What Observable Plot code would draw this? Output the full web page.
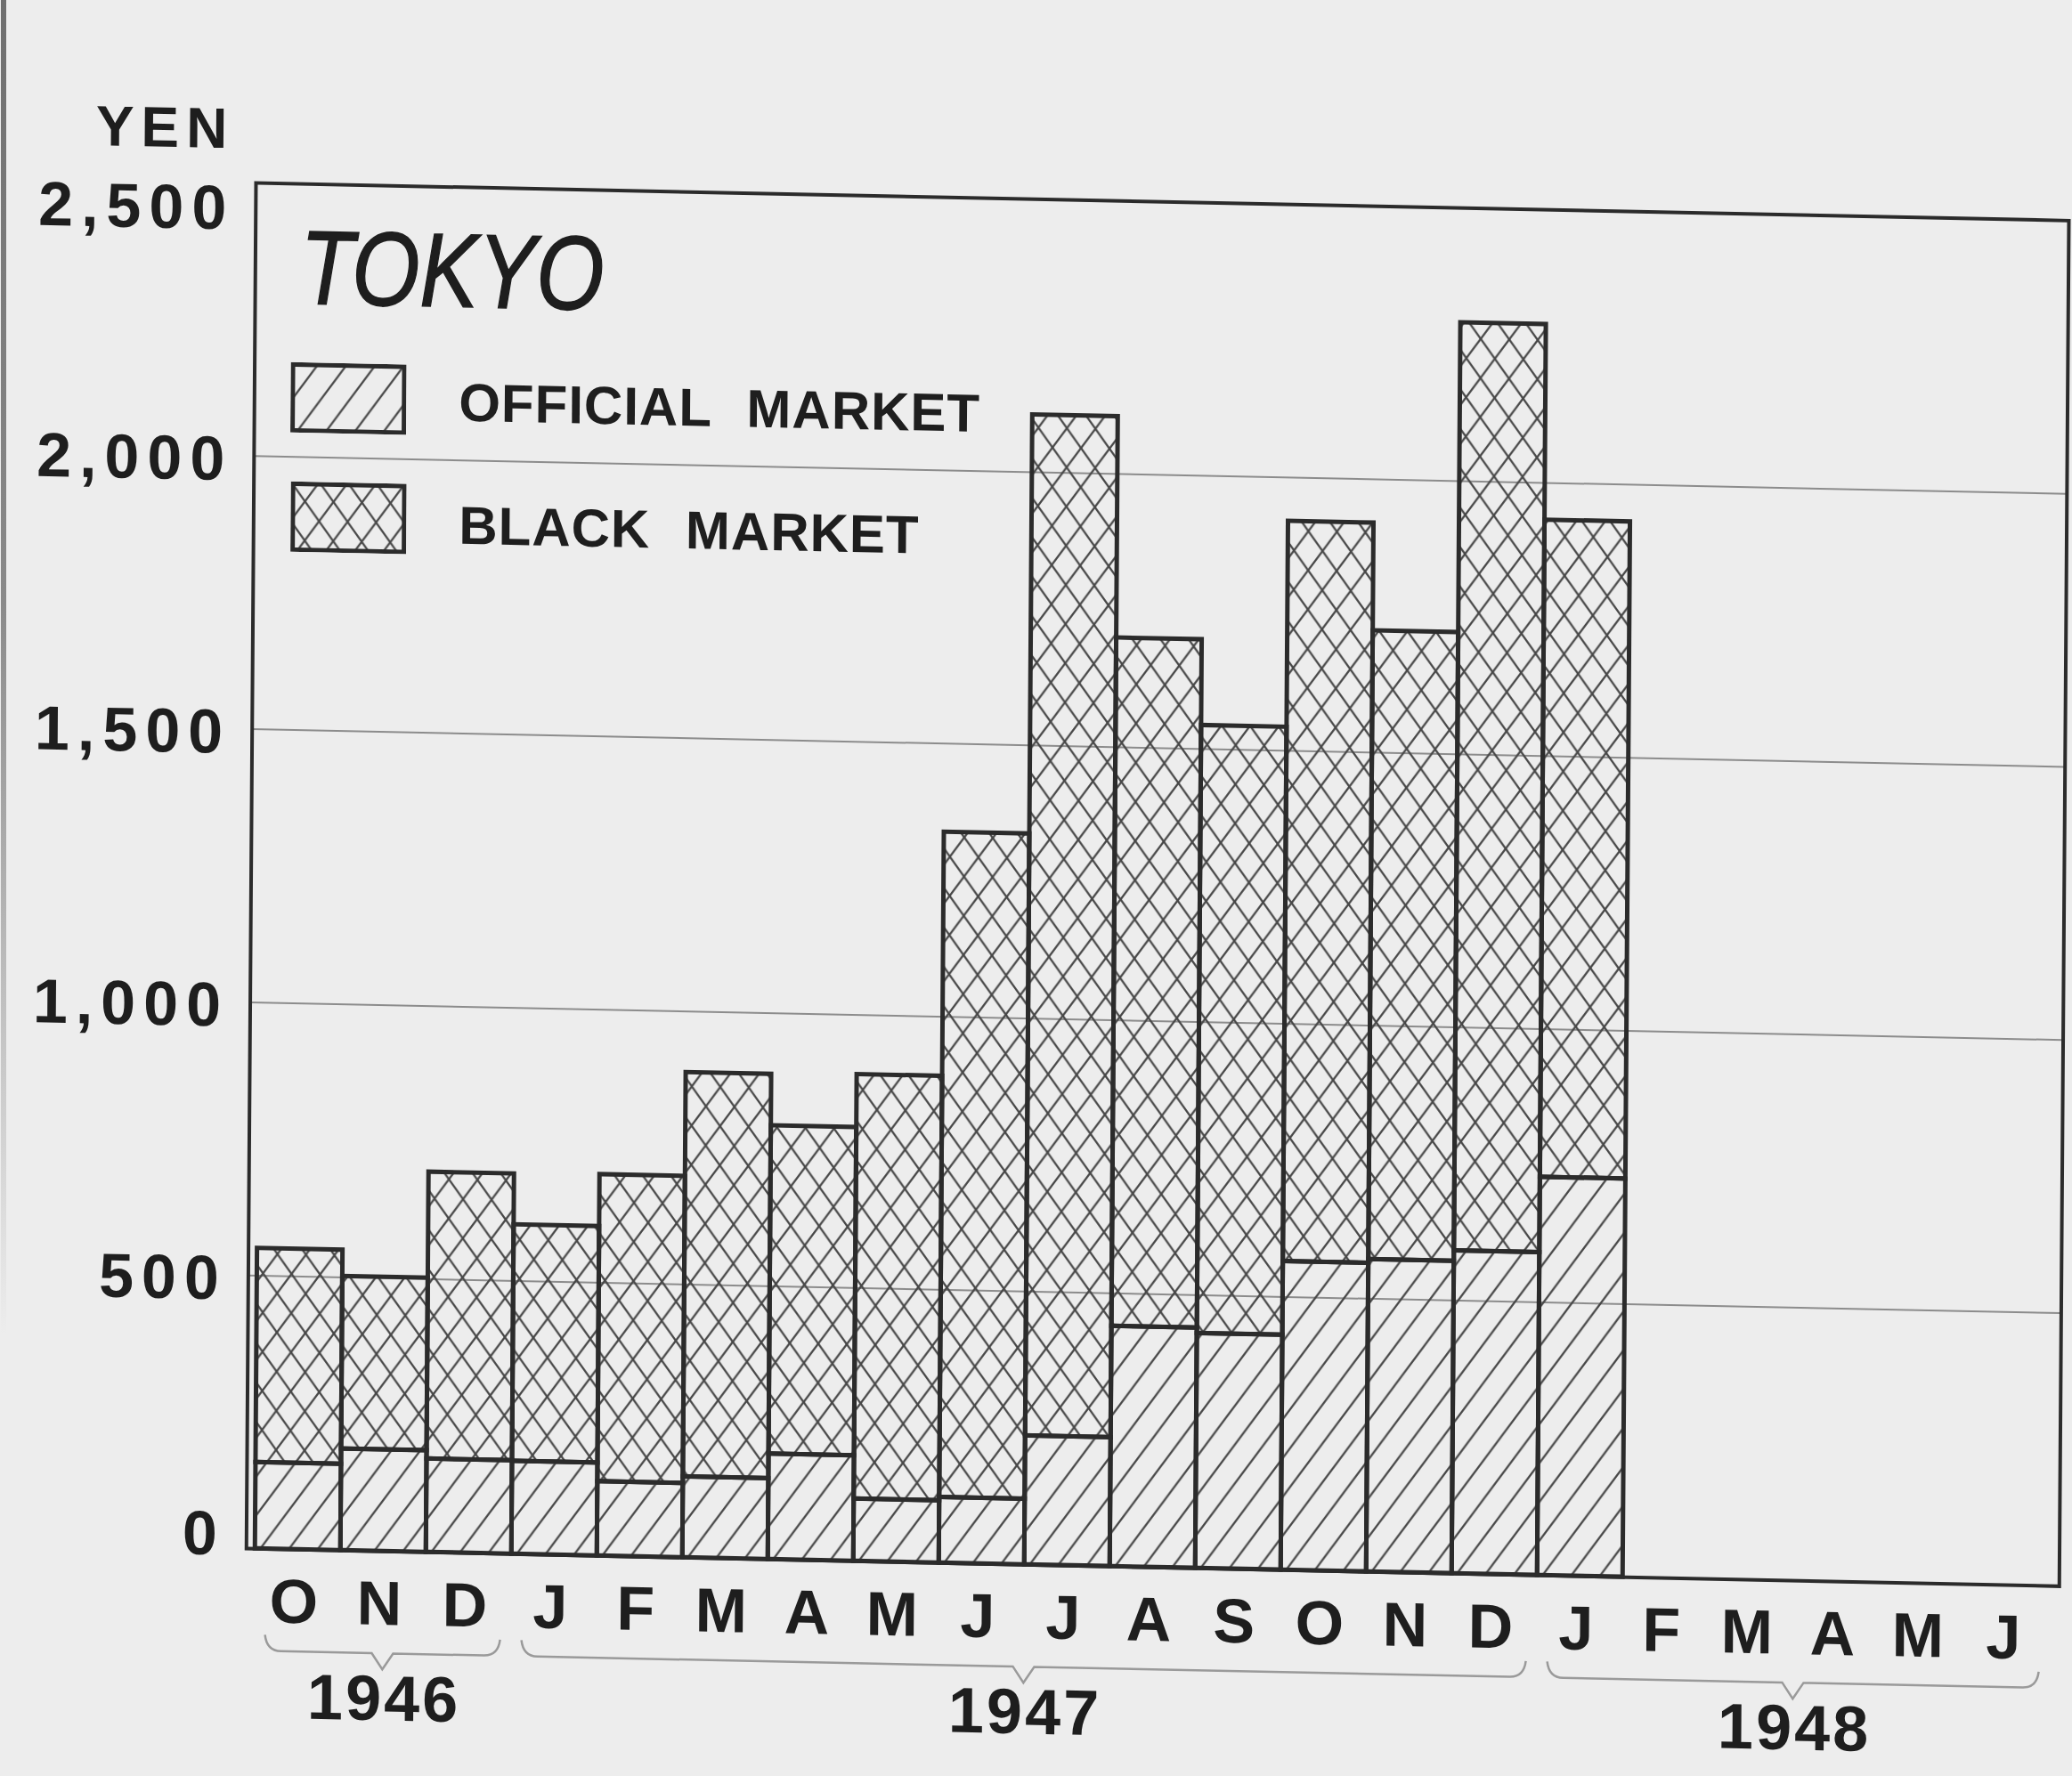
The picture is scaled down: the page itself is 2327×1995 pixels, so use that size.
<!DOCTYPE html>
<html>
<head>
<meta charset="utf-8">
<script src="https://cdn.jsdelivr.net/npm/d3@7"></script>
<script src="https://cdn.jsdelivr.net/npm/@observablehq/plot@0.6"></script>
<style>
  html, body { margin: 0; padding: 0; background: #ededed; overflow: hidden; }
  #scanedge { position: absolute; left: 1px; top: 0; width: 6px; height: 1500px;
    background: linear-gradient(to bottom, #6f6f6f 0%, #8a8a8a 45%, rgba(237,237,237,0) 100%); }
  #page { position: absolute; left: 0; top: 0; width: 2327px; height: 1995px;
    transform: matrix(1, 0.0208, -0.007, 1, 0, 0); transform-origin: 287px 205px;
    font-family: "Liberation Sans", Arial, sans-serif; color: #1e1e1e; }
  #chart { position: absolute; left: 0; top: 0; }
  .ov { position: absolute; white-space: nowrap; line-height: 1; }
  #yen { left: 263px; top: 145px; transform: translate(-100%, -50%); font-size: 64px; font-weight: bold; letter-spacing: 8px; }
  #title { left: 338px; top: 299px; transform-origin: left center; transform: translateY(-50%) scaleX(0.83);
    font-size: 118px; font-style: italic; font-weight: normal; -webkit-text-stroke: 1.5px #1e1e1e; }
  .swatch { position: absolute; }
  .legtext { font-size: 60px; font-weight: bold; letter-spacing: 1px; word-spacing: 22px; transform: translateY(-50%); }
</style>
</head>
<body>
<svg width="0" height="0" style="position:absolute">
  <defs>
    <pattern id="diagHatch" patternUnits="userSpaceOnUse" width="32" height="44">
      <path d="M-8,55 L40,-11 M-8,11 L8,-11 M24,55 L40,33" stroke="#474747" stroke-width="2.3" fill="none"/>
    </pattern>
    <pattern id="crossHatch" patternUnits="userSpaceOnUse" width="32" height="44">
      <path d="M-8,55 L40,-11 M-8,11 L8,-11 M24,55 L40,33 M-8,-11 L40,55 M-8,33 L8,55 M24,-11 L40,11" stroke="#474747" stroke-width="2.3" fill="none"/>
    </pattern>
  </defs>
</svg>
<div id="scanedge"></div>
<div id="page">
  <div id="chart"></div>
  <div class="ov" id="yen">YEN</div>
  <div class="ov" id="title">TOKYO</div>
  <svg class="swatch" style="left:328px;top:406px" width="130" height="79">
    <rect x="2.5" y="2.5" width="125" height="74" fill="url(#diagHatch)" stroke="#2b2b2b" stroke-width="5"/>
  </svg>
  <div class="ov legtext" style="left:517px;top:448px">OFFICIAL MARKET</div>
  <svg class="swatch" style="left:329px;top:540px" width="130" height="79">
    <rect x="2.5" y="2.5" width="125" height="74" fill="url(#crossHatch)" stroke="#2b2b2b" stroke-width="5"/>
  </svg>
  <div class="ov legtext" style="left:518px;top:586px">BLACK MARKET</div>
</div>
<script>
// ---- data (yen) ----
const months = ["1946-10","1946-11","1946-12",
  "1947-01","1947-02","1947-03","1947-04","1947-05","1947-06","1947-07","1947-08","1947-09","1947-10","1947-11","1947-12",
  "1948-01","1948-02","1948-03","1948-04","1948-05","1948-06"];
const monthLabels = ["O","N","D","J","F","M","A","M","J","J","A","S","O","N","D","J","F","M","A","M","J"];
const officialYen = [158, 186, 171, 170, 136, 148, 193, 114, 120, 236, 440, 430, 565, 572, 591, 729];
const blackMarketYen = [550, 502, 696, 603, 698, 888, 794, 891, 1338, 2105, 1700, 1543, 1920, 1723, 2290, 1932];
const yTicks = [0, 500, 1000, 1500, 2000, 2500];
const gridYen = [500, 1000, 1500, 2000];
const years = ["1946", "1947", "1948"];
const yearFirstMonth = ["1946-10", "1947-01", "1948-01"];
const yearLastMonth = ["1946-12", "1947-12", "1948-06"];

const rows = officialYen.map((v, i) => ({month: months[i], official: v, black: blackMarketYen[i]}));

const W = 2327, H = 1995, mL = 287, mR = 4, mT = 205, mB = 256;
const ink = "#2b2b2b";
const yfmt = d3.format(",");
const tickText = {frameAnchor: "left", textAnchor: "end", dx: -24, fontSize: 70, fontWeight: "bold", fill: "#1e1e1e"};

const chart = Plot.plot({
  width: W, height: H,
  marginLeft: mL, marginRight: mR, marginTop: mT, marginBottom: mB,
  style: {background: "transparent", fontFamily: "'Liberation Sans', Arial, sans-serif", letterSpacing: "9px", overflow: "visible", maxWidth: "none"},
  x: {domain: months, padding: 0, axis: null},
  y: {domain: [0, 2500], axis: null},
  marks: [
    Plot.ruleY(gridYen, {stroke: "#8c8c8c", strokeWidth: 2}),
    Plot.barY(rows, {x: "month", y1: "official", y2: "black", fill: "url(#crossHatch)", stroke: ink, strokeWidth: 5}),
    Plot.barY(rows, {x: "month", y1: 0, y2: "official", fill: "url(#diagHatch)", stroke: ink, strokeWidth: 5}),
    Plot.frame({stroke: ink, strokeWidth: 4}),
    Plot.text(months, {x: d => d, text: (d, i) => monthLabels[i], frameAnchor: "bottom", lineAnchor: "middle", dy: 60,
      fontSize: 70, fontWeight: "bold", fill: "#1e1e1e"}),
    Plot.text(yTicks.filter(d => d === yTicks[yTicks.length - 1]), {y: d => d, text: d => yfmt(d), dy: 30, ...tickText}),
    Plot.text(yTicks.filter(d => d !== 0 && d !== yTicks[yTicks.length - 1]), {y: d => d, text: d => yfmt(d), dy: 5, ...tickText}),
    Plot.text(yTicks.filter(d => d === 0), {y: d => d, text: d => yfmt(d), dy: -15, ...tickText})
  ]
});
document.getElementById("chart").appendChild(chart);

// year braces and labels, positioned with Plot's own x scale
const xs = chart.scale("x");
const bw = xs.bandwidth;
const bottom = H - mB;
const g = d3.select(chart).append("g");
years.forEach((yr, i) => {
  const x0 = xs.apply(yearFirstMonth[i]) + 12;
  const x1 = xs.apply(yearLastMonth[i]) + bw - 12;
  const xm = (x0 + x1) / 2;
  const yb = bottom + 115;
  g.append("path")
    .attr("d", `M${x0},${yb - 18} Q${x0 + 2},${yb} ${x0 + 18},${yb} L${xm - 12},${yb} L${xm},${yb + 18} L${xm + 12},${yb} L${x1 - 18},${yb} Q${x1 - 2},${yb} ${x1},${yb - 18}`)
    .attr("fill", "none").attr("stroke", "#9a9a9a").attr("stroke-width", 2.5);
  g.append("text")
    .attr("x", xm + 2).attr("y", bottom + 165).attr("dy", "0.35em")
    .attr("text-anchor", "middle")
    .style("letter-spacing", "3px")
    .attr("font-size", 72).attr("font-weight", "bold").attr("fill", "#1e1e1e")
    .text(yr);
});
</script>
</body>
</html>
